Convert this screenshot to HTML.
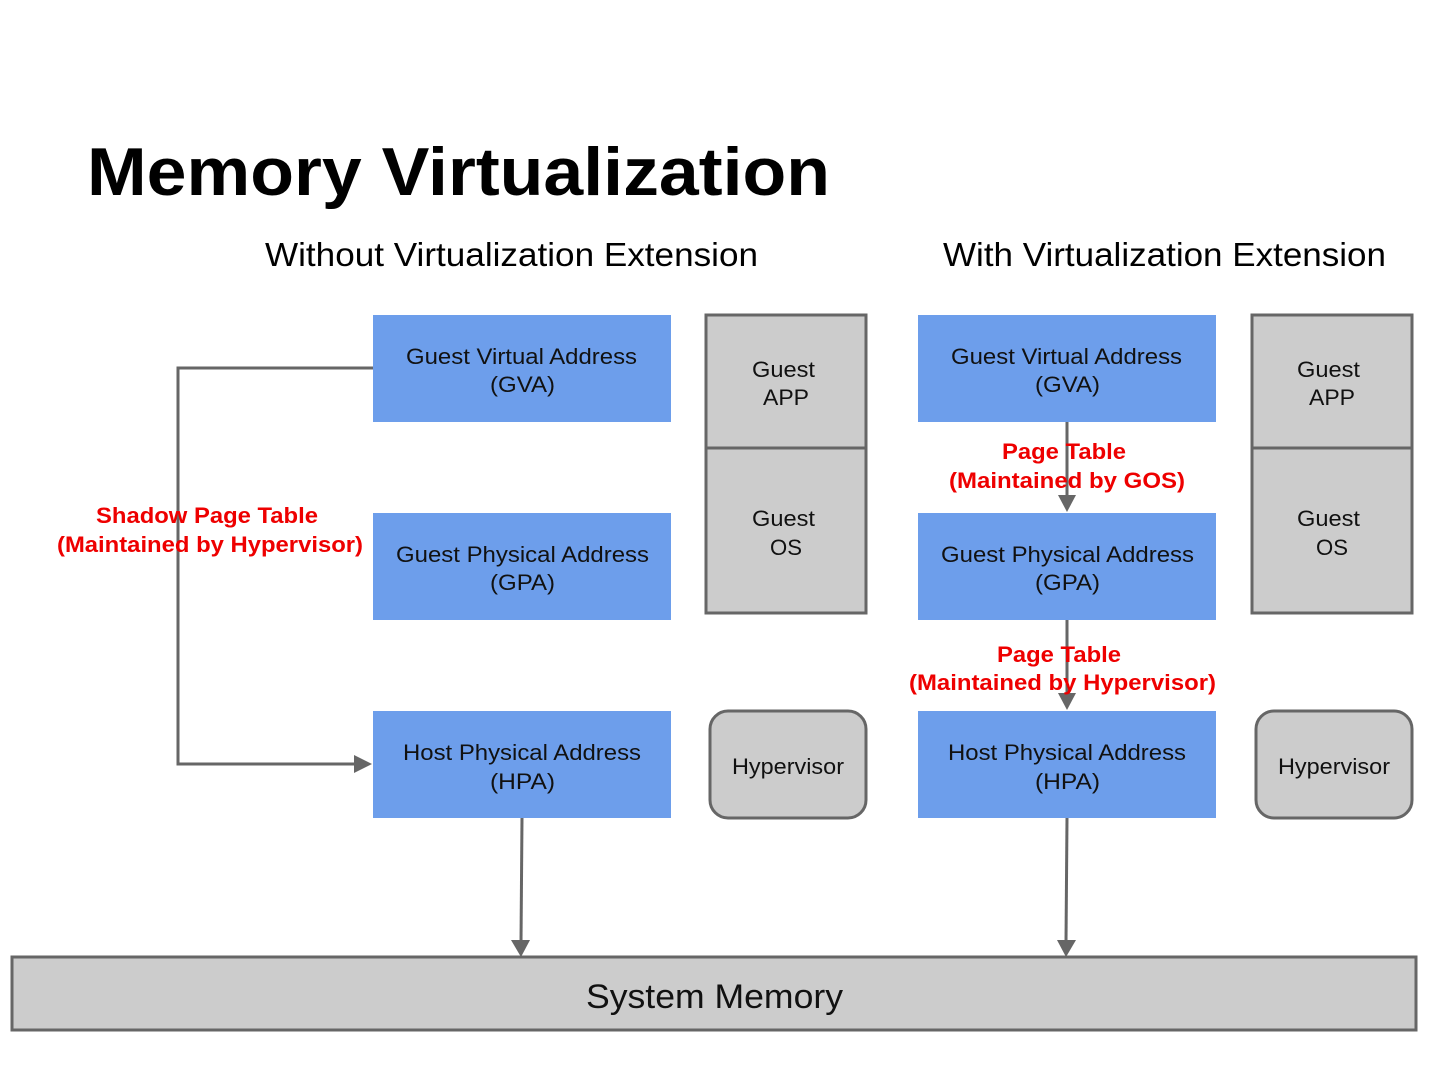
<!DOCTYPE html>
<html><head><meta charset="utf-8"><style>
html,body{margin:0;padding:0;background:#fff;}
svg{display:block;font-family:"Liberation Sans",sans-serif;}
</style></head><body>
<svg width="1440" height="1080" viewBox="0 0 1440 1080" xmlns="http://www.w3.org/2000/svg">
<rect width="1440" height="1080" fill="#fff"/>
<text x="87" y="195" font-size="68" font-weight="bold" textLength="743" lengthAdjust="spacingAndGlyphs">Memory Virtualization</text>
<text x="265" y="266" font-size="33" textLength="493" lengthAdjust="spacingAndGlyphs">Without Virtualization Extension</text>
<text x="943" y="266" font-size="33" textLength="443" lengthAdjust="spacingAndGlyphs">With Virtualization Extension</text>

<g fill="#6d9eeb">
<rect x="373" y="315" width="298" height="107"/>
<rect x="373" y="513" width="298" height="107"/>
<rect x="373" y="711" width="298" height="107"/>
<rect x="918" y="315" width="298" height="107"/>
<rect x="918" y="513" width="298" height="107"/>
<rect x="918" y="711" width="298" height="107"/>
</g>
<g fill="#ccc" stroke="#666" stroke-width="3">
<rect x="706" y="315" width="160" height="133"/>
<rect x="706" y="448" width="160" height="165"/>
<rect x="1252" y="315" width="160" height="133"/>
<rect x="1252" y="448" width="160" height="165"/>
<rect x="710" y="711" width="156" height="107" rx="18"/>
<rect x="1256" y="711" width="156" height="107" rx="18"/>
<rect x="12" y="957" width="1404" height="73"/>
</g>

<g stroke="#666" stroke-width="3" fill="none">
<polyline points="373,368 178,368 178,764 356,764"/>
<line x1="522" y1="818" x2="521" y2="942"/>
<line x1="1067" y1="818" x2="1066" y2="942"/>
<line x1="1067" y1="422" x2="1067" y2="497"/>
<line x1="1067" y1="620" x2="1067" y2="695"/>
</g>
<g fill="#666">
<polygon points="354,755 372,764 354,773"/>
<polygon points="511,940 530,940 521,957"/>
<polygon points="1057,940 1076,940 1066,957"/>
<polygon points="1058,495 1076,495 1067,512"/>
<polygon points="1058,693 1076,693 1067,710"/>
</g>

<g font-size="22" fill="#111" lengthAdjust="spacingAndGlyphs">
<text x="406" y="364" textLength="231" lengthAdjust="spacingAndGlyphs">Guest Virtual Address</text><text x="490" y="392" textLength="65" lengthAdjust="spacingAndGlyphs">(GVA)</text>
<text x="396" y="562" textLength="253" lengthAdjust="spacingAndGlyphs">Guest Physical Address</text><text x="490" y="590" textLength="65" lengthAdjust="spacingAndGlyphs">(GPA)</text>
<text x="403" y="760" textLength="238" lengthAdjust="spacingAndGlyphs">Host Physical Address</text><text x="490" y="789" textLength="65" lengthAdjust="spacingAndGlyphs">(HPA)</text>
<text x="951" y="364" textLength="231" lengthAdjust="spacingAndGlyphs">Guest Virtual Address</text><text x="1035" y="392" textLength="65" lengthAdjust="spacingAndGlyphs">(GVA)</text>
<text x="941" y="562" textLength="253" lengthAdjust="spacingAndGlyphs">Guest Physical Address</text><text x="1035" y="590" textLength="65" lengthAdjust="spacingAndGlyphs">(GPA)</text>
<text x="948" y="760" textLength="238" lengthAdjust="spacingAndGlyphs">Host Physical Address</text><text x="1035" y="789" textLength="65" lengthAdjust="spacingAndGlyphs">(HPA)</text>
<text x="752" y="377" textLength="63" lengthAdjust="spacingAndGlyphs">Guest</text><text x="763" y="405" textLength="46" lengthAdjust="spacingAndGlyphs">APP</text>
<text x="752" y="526" textLength="63" lengthAdjust="spacingAndGlyphs">Guest</text><text x="770" y="555" textLength="32" lengthAdjust="spacingAndGlyphs">OS</text>
<text x="1297" y="377" textLength="63" lengthAdjust="spacingAndGlyphs">Guest</text><text x="1309" y="405" textLength="46" lengthAdjust="spacingAndGlyphs">APP</text>
<text x="1297" y="526" textLength="63" lengthAdjust="spacingAndGlyphs">Guest</text><text x="1316" y="555" textLength="32" lengthAdjust="spacingAndGlyphs">OS</text>
<text x="732" y="774" textLength="112" lengthAdjust="spacingAndGlyphs">Hypervisor</text>
<text x="1278" y="774" textLength="112" lengthAdjust="spacingAndGlyphs">Hypervisor</text>
<text x="586" y="1008" font-size="34" textLength="257" lengthAdjust="spacingAndGlyphs">System Memory</text>
</g>

<g font-size="22" font-weight="bold" fill="#e00">
<text x="96" y="523" textLength="222" lengthAdjust="spacingAndGlyphs">Shadow Page Table</text>
<text x="57" y="552" textLength="306" lengthAdjust="spacingAndGlyphs">(Maintained by Hypervisor)</text>
<text x="1002" y="459" textLength="124" lengthAdjust="spacingAndGlyphs">Page Table</text>
<text x="949" y="488" textLength="236" lengthAdjust="spacingAndGlyphs">(Maintained by GOS)</text>
<text x="997" y="662" textLength="124" lengthAdjust="spacingAndGlyphs">Page Table</text>
<text x="909" y="690" textLength="307" lengthAdjust="spacingAndGlyphs">(Maintained by Hypervisor)</text>
</g>
</svg>
</body></html>
